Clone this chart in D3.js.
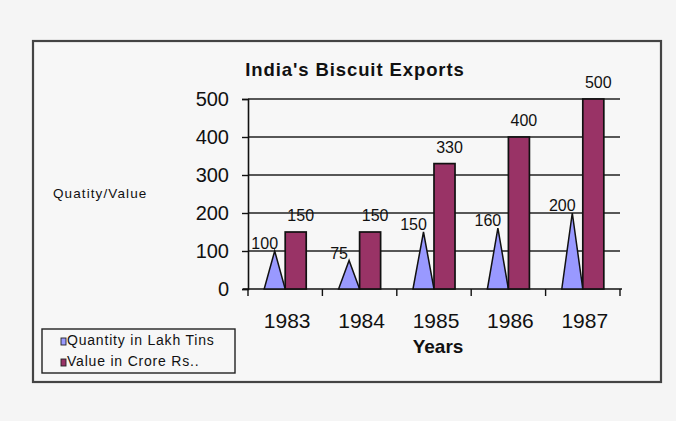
<!DOCTYPE html>
<html>
<head>
<meta charset="utf-8">
<script src="https://cdn.jsdelivr.net/npm/d3@7/dist/d3.min.js"></script>
<style>
  html, body { margin: 0; padding: 0; background: #f5f5f5; }
  svg { display: block; font-family: "Liberation Sans", Arial, sans-serif; }
</style>
</head>
<body>
<svg id="chart" width="676" height="421"></svg>
<script>
// Export figures per year
const years = ["1983", "1984", "1985", "1986", "1987"];
const quantity = [100, 75, 150, 160, 200];   // Quantity in Lakh Tins
const value = [150, 150, 330, 400, 500];     // Value in Crore Rs.
const yTicks = [0, 100, 200, 300, 400, 500];
const seriesNames = ["Quantity in Lakh Tins", "Value in Crore Rs.."];
const seriesColors = ["#9999ff", "#993366"];

const svg = d3.select("#chart");

// outer frame
svg.append("rect")
  .attr("x", 33).attr("y", 41).attr("width", 628).attr("height", 341)
  .attr("fill", "#f7f7f7").attr("stroke", "#444").attr("stroke-width", 2.2);

const x0 = d3.scaleBand().domain(years).range([248, 620]).padding(0);
const x1 = d3.scaleBand().domain(["q", "v"]).range([0, x0.bandwidth()])
  .paddingInner(0).paddingOuter(0.77);
const y = d3.scaleLinear().domain([0, 500]).range([289, 99]);

// title
svg.append("text")
  .attr("x", 355).attr("y", 76).attr("text-anchor", "middle")
  .attr("font-size", 18.5).attr("font-weight", "bold").attr("letter-spacing", 0.9)
  .attr("fill", "#111").text("India's Biscuit  Exports");

// gridlines
svg.append("g").selectAll("line").data(yTicks.filter(t => t > 0)).join("line")
  .attr("x1", 248).attr("x2", 620)
  .attr("y1", d => y(d)).attr("y2", d => y(d))
  .attr("stroke", "#222").attr("stroke-width", 1.4);

// y axis
const yAxis = svg.append("g").attr("transform", "translate(248,0)")
  .call(d3.axisLeft(y).tickValues(yTicks).tickSize(6).tickPadding(13));
yAxis.select(".domain").attr("stroke", "#111").attr("stroke-width", 1.6);
yAxis.selectAll(".tick line").attr("stroke", "#111").attr("stroke-width", 1.4);
yAxis.selectAll(".tick text").attr("font-size", 20).attr("fill", "#111")
  .attr("font-family", "Liberation Sans, Arial, sans-serif");

// x axis: ticks at category boundaries
svg.append("line").attr("x1", 243).attr("x2", 622).attr("y1", 289).attr("y2", 289)
  .attr("stroke", "#111").attr("stroke-width", 1.6);
const bounds = years.map(d => x0(d)).concat([x0.range()[1]]);
svg.append("g").selectAll("line").data(bounds).join("line")
  .attr("x1", d => d).attr("x2", d => d).attr("y1", 289).attr("y2", 296)
  .attr("stroke", "#111").attr("stroke-width", 1.4);
svg.append("g").selectAll("text").data(years).join("text")
  .attr("x", d => x0(d) + x0.bandwidth() / 2 + 2).attr("y", 328)
  .attr("text-anchor", "middle").attr("font-size", 21).attr("fill", "#111")
  .text(d => d);

// axis titles
svg.append("text").attr("x", 438).attr("y", 353).attr("text-anchor", "middle")
  .attr("font-size", 19).attr("font-weight", "bold").attr("fill", "#111").text("Years");
svg.append("text").attr("x", 53).attr("y", 198)
  .attr("font-size", 13.5).attr("letter-spacing", 1.1).attr("fill", "#111").text("Quatity/Value");

// quantity pyramids
const rows = years.map((yr, i) => ({ yr, q: quantity[i], v: value[i] }));
svg.append("g").selectAll("path").data(rows).join("path")
  .attr("d", d => {
    const l = x0(d.yr) + x1("q"), w = x1.bandwidth();
    return `M${l},${y(0)} L${l + w / 2},${y(d.q)} L${l + w},${y(0)} Z`;
  })
  .attr("fill", seriesColors[0]).attr("stroke", "#111").attr("stroke-width", 1.5);

// value bars
svg.append("g").selectAll("rect").data(rows).join("rect")
  .attr("x", d => x0(d.yr) + x1("v")).attr("y", d => y(d.v))
  .attr("width", x1.bandwidth()).attr("height", d => y(0) - y(d.v))
  .attr("fill", seriesColors[1]).attr("stroke", "#111").attr("stroke-width", 1.7);

// data labels
svg.append("g").selectAll("text").data(rows).join("text")
  .attr("x", d => x0(d.yr) + x1("q") + x1.bandwidth() / 2 - 10)
  .attr("y", d => y(d.q) - 2)
  .attr("text-anchor", "middle").attr("font-size", 16).attr("fill", "#111")
  .text(d => d.q);
svg.append("g").selectAll("text").data(rows).join("text")
  .attr("x", d => x0(d.yr) + x1("v") + x1.bandwidth() / 2 + 5)
  .attr("y", d => y(d.v) - 11)
  .attr("text-anchor", "middle").attr("font-size", 16).attr("fill", "#111")
  .text(d => d.v);

// legend
const lg = svg.append("g");
lg.append("rect").attr("x", 42).attr("y", 329).attr("width", 193).attr("height", 44)
  .attr("fill", "#f7f7f7").attr("stroke", "#222").attr("stroke-width", 1.4);
seriesNames.forEach((name, i) => {
  const by = 345 + i * 21;
  lg.append("rect").attr("x", 61).attr("y", by - 7).attr("width", 5).attr("height", 7)
    .attr("fill", seriesColors[i]).attr("stroke", "#222").attr("stroke-width", 0.9);
  lg.append("text").attr("x", 67).attr("y", by)
    .attr("font-size", 14).attr("letter-spacing", 0.8).attr("fill", "#111").text(name);
});
</script>
</body>
</html>
